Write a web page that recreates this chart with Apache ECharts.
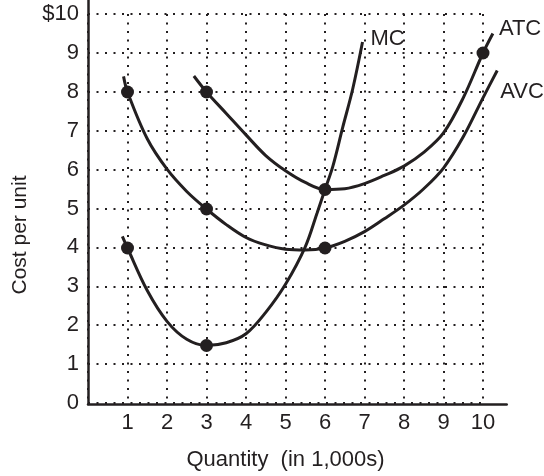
<!DOCTYPE html>
<html>
<head>
<meta charset="utf-8">
<script src="https://cdn.jsdelivr.net/npm/echarts@6/dist/echarts.min.js"></script>
<style>
html,body{margin:0;padding:0;background:#fff;}
#chart{width:544px;height:476px;}
</style>
</head>
<body>
<div id="chart"></div>
<script>
// ---- data ----
const xTicks = [1,2,3,4,5,6,7,8,9,10];
const yTicks = [0,1,2,3,4,5,6,7,8,9,10];
const yTickLabels = ['0','1','2','3','4','5','6','7','8','9','$10'];

const mcQ = [0.87,1,1.5,2,2.5,3,3.5,4,4.5,5,5.5,5.8,6,6.2,6.45,6.7,6.95];
const mcC = [4.3,4,2.91,2.12,1.66,1.5,1.57,1.8,2.35,3.07,4.03,4.9,5.5,6.1,7.1,8.07,9.28];

const atcQ = [2.68,3,3.5,4,4.5,5,5.5,6,6.5,7,7.5,8,8.5,9,9.5,10,10.25];
const atcC = [8.41,8,7.45,6.9,6.37,5.98,5.68,5.5,5.52,5.65,5.86,6.1,6.45,6.95,7.85,9.0,9.5];

const avcQ = [0.9,1,1.5,2,2.5,3,3.5,4,4.5,5,5.5,6,6.5,7,7.5,8,8.5,9,9.5,10,10.36];
const avcC = [8.4,8,6.8,6.02,5.45,5,4.6,4.27,4.08,3.97,3.95,4,4.17,4.42,4.75,5.1,5.52,6.05,6.85,7.85,8.55];

const dotQ = [1,3,1,3,3,6,6,10];
const dotC = [8,8,4,5,1.5,5.5,4,9];

const seriesNames = ['MC','ATC','AVC'];
// ---------------------------------------

const INK = '#231f20';
const FONT = "'Liberation Sans', Arial, Helvetica, sans-serif";
const pairs = (xs, ys) => xs.map((x, i) => [x, ys[i]]);

const chart = echarts.init(document.getElementById('chart'), null, {renderer: 'canvas'});

const gridDash = {color: INK, width: 2, type: [2, 6.5]};

// main grid: 0..10 on both axes; outer grid: same scale but extended (for axis lines and curve ends)
const L = 88, T = 14, B = 72, R = 61;
const W = 544 - L - R, H = 476 - T - B;
const pxX = W / 10, pxY = H / 10;
const xOuterMax = 10.6;
const yOuterMax = (H + T) / pxY;

function curve(name, xs, ys, offset) {
  return {
    name: name, type: 'line', xAxisIndex: 1, yAxisIndex: 1,
    data: pairs(xs, ys), smooth: 0.35, symbol: 'none', clip: false,
    lineStyle: {color: INK, width: 3}, z: 3,
    endLabel: {show: true, formatter: name, color: INK, fontFamily: FONT, fontSize: 22,
               align: 'left', verticalAlign: 'middle', offset: offset, distance: 5},
    animation: false, silent: true
  };
}

chart.setOption({
  animation: false,
  backgroundColor: '#fff',
  textStyle: {fontFamily: FONT},
  grid: [
    {left: L, width: W, top: T, height: H},
    {left: L, width: pxX * xOuterMax, top: 0, height: H + T}
  ],
  xAxis: [
    {type: 'value', gridIndex: 0, min: 0, max: 10, interval: 1,
     axisLine: {show: false}, axisTick: {show: false},
     splitLine: {show: true, lineStyle: gridDash},
     axisLabel: {show: true, margin: 9, color: INK, fontFamily: FONT, fontSize: 22,
       formatter: v => (xTicks.indexOf(v) >= 0 ? String(v) : '')},
     name: 'Quantity  (in 1,000s)', nameLocation: 'middle', nameGap: 46,
     nameTextStyle: {color: INK, fontFamily: FONT, fontSize: 22}},
    {type: 'value', gridIndex: 1, min: 0, max: xOuterMax,
     axisLine: {show: true, onZero: false, lineStyle: {color: INK, width: 2.5}},
     axisTick: {show: false}, axisLabel: {show: false}, splitLine: {show: false}}
  ],
  yAxis: [
    {type: 'value', gridIndex: 0, min: 0, max: 10, interval: 1,
     axisLine: {show: false}, axisTick: {show: false},
     splitLine: {show: true, lineStyle: gridDash},
     axisLabel: {show: true, margin: 9, color: INK, fontFamily: FONT, fontSize: 22,
       formatter: v => { const i = yTicks.indexOf(v); return i >= 0 ? yTickLabels[i] : ''; }}},
    {type: 'value', gridIndex: 1, min: 0, max: yOuterMax,
     axisLine: {show: true, onZero: false, lineStyle: {color: INK, width: 2.5}},
     axisTick: {show: false}, axisLabel: {show: false}, splitLine: {show: false}}
  ],
  graphic: [
    {type: 'text', x: 20, y: 235, rotation: Math.PI / 2,
     style: {text: 'Cost per unit', fill: INK, font: "21px 'Liberation Sans', Arial, sans-serif",
             textAlign: 'center', textVerticalAlign: 'middle'}}
  ],
  series: [
    curve(seriesNames[0], mcQ, mcC, [3, -3]),
    curve(seriesNames[1], atcQ, atcC, [1, -5]),
    curve(seriesNames[2], avcQ, avcC, [-2, 21]),
    {type: 'scatter', xAxisIndex: 1, yAxisIndex: 1, data: pairs(dotQ, dotC), clip: false,
     symbol: 'circle', symbolSize: 13, itemStyle: {color: INK, opacity: 1}, z: 4, silent: true}
  ]
});
</script>
</body>
</html>
